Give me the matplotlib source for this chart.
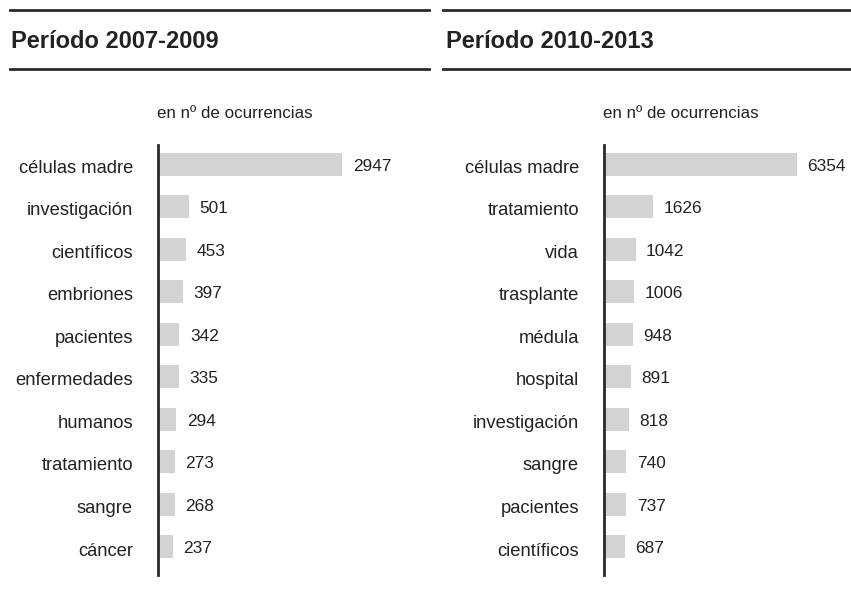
import matplotlib.pyplot as plt
from matplotlib.lines import Line2D

plt.rcParams['font.family'] = ['Liberation Sans', 'DejaVu Sans']

left_title = 'Período 2007-2009'
left_terms = ['células madre', 'investigación', 'científicos', 'embriones', 'pacientes',
              'enfermedades', 'humanos', 'tratamiento', 'sangre', 'cáncer']
left_counts = [2947, 501, 453, 397, 342, 335, 294, 273, 268, 237]

right_title = 'Período 2010-2013'
right_terms = ['células madre', 'tratamiento', 'vida', 'trasplante', 'médula',
               'hospital', 'investigación', 'sangre', 'pacientes', 'científicos']
right_counts = [6354, 1626, 1042, 1006, 948, 891, 818, 740, 737, 687]

subtitle = 'en nº de ocurrencias'

W, H = 851, 590
fig = plt.figure(figsize=(W / 100, H / 100), dpi=100)

bar_color = '#d3d3d5'
text_color = '#222222'


def px_axes(x0, y0, x1, y1):
    # pixel box (top-left origin) -> figure axes
    return fig.add_axes([x0 / W, 1 - y1 / H, (x1 - x0) / W, (y1 - y0) / H])


def panel(x_axis, x_end, xmax, terms, counts, title, rule_x0, rule_x1, title_x, sub_x):
    ax = px_axes(x_axis, 145, x_end, 575)
    ypos = list(range(len(terms)))
    ax.barh(ypos, counts, height=0.54, color=bar_color, left=0)
    ax.set_xlim(0, xmax)
    ax.set_ylim(9.66, -0.45)
    ax.set_yticks([])
    ax.set_xticks([])
    for s in ['top', 'right', 'bottom']:
        ax.spines[s].set_visible(False)
    ax.spines['left'].set_linewidth(2)
    ax.spines['left'].set_color('#2a2a2a')
    for y, term, v in zip(ypos, terms, counts):
        ax.annotate(term, (0, y), xycoords=('axes fraction', 'data'),
                    xytext=(-18, -6.2), textcoords='offset points',
                    va='baseline', ha='right', fontsize=13.2, color=text_color)
        ax.annotate(str(v), (v, y), xytext=(7.5, -4.7), textcoords='offset points',
                    va='baseline', ha='left', fontsize=12.4, color=text_color)
    # rules and title
    for yy in (10, 69):
        fig.add_artist(Line2D([rule_x0 / W, rule_x1 / W], [1 - yy / H, 1 - yy / H],
                              color='#2a2a2a', lw=2))
    fig.text(title_x / W, 1 - 48.5 / H, title, fontsize=17, fontweight='bold',
             color=text_color, va='baseline', ha='left')
    fig.text(sub_x / W, 1 - 113 / H, subtitle, fontsize=12.2, color=text_color,
             va='center', ha='left')


panel(158, 430, 4350, left_terms, left_counts, left_title, 10, 429, 11, 157)
panel(604, 851, 8150, right_terms, right_counts, right_title, 443, 851, 446, 603)

fig.savefig('out.png', dpi=100)
